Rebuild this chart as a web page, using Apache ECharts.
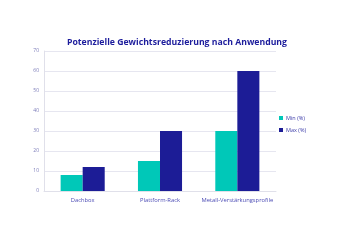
<!DOCTYPE html>
<html><head><meta charset="utf-8">
<script src="https://cdn.jsdelivr.net/npm/echarts@6/dist/echarts.min.js"></script>
<style>html,body{margin:0;padding:0;background:#fff}#c{width:340px;height:250px}</style>
</head><body><div id="c"></div>
<script>
const categories = ['Dachbox', 'Plattform-Rack', 'Metall-Verstärkungsprofile'];
const minValues = [8, 15, 30];
const maxValues = [12, 30, 60];
const seriesNames = ['Min (%)', 'Max (%)'];
const yTicks = [0, 10, 20, 30, 40, 50, 60, 70];

const chart = echarts.init(document.getElementById('c'), null, {renderer: 'canvas'});
chart.setOption({
  animation: false,
  textStyle: {fontFamily: 'Open Sans'},
  title: {
    text: 'Potenzielle Gewichtsreduzierung nach Anwendung',
    left: 172, top: 33, textAlign: 'center',
    textStyle: {fontSize: 8.7, fontWeight: 'bold', color: '#1c1c9c', fontFamily: 'Open Sans'}
  },
  legend: {
    orient: 'vertical', left: 279, top: 115,
    itemWidth: 4, itemHeight: 4, itemGap: 6, padding: 0,
    textStyle: {fontSize: 5.5, color: '#3a3aa8', fontFamily: 'Open Sans', padding: [0, 0, 0, -2]},
    icon: 'rect',
    data: seriesNames
  },
  grid: {left: 44, right: 64, top: 51, bottom: 59},
  xAxis: {
    type: 'category', data: categories,
    axisLine: {lineStyle: {color: '#e0e0ea'}},
    axisTick: {show: false},
    axisLabel: {fontSize: 5.8, color: '#4a4ab4', margin: 6, interval: 0}
  },
  yAxis: {
    type: 'value', min: yTicks[0], max: yTicks[yTicks.length - 1], interval: 10,
    axisLine: {show: true, lineStyle: {color: '#e0e0ea'}},
    axisTick: {show: false},
    axisLabel: {fontSize: 5, color: '#7a7ab8', margin: 5},
    splitLine: {lineStyle: {color: '#e6e6f0'}}
  },
  series: [
    {name: seriesNames[0], type: 'bar', data: minValues, barGap: '0%', barCategoryGap: '43%',
     itemStyle: {color: '#00c8b8'}},
    {name: seriesNames[1], type: 'bar', data: maxValues, barGap: '0%', barCategoryGap: '43%',
     itemStyle: {color: '#1c1c96'}}
  ]
});
</script></body></html>
